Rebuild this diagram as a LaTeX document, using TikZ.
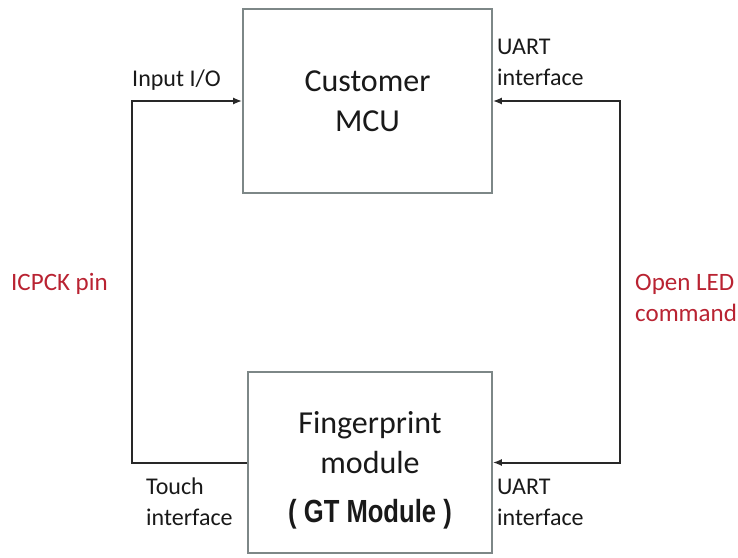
\documentclass[tikz,border=0pt]{standalone}
\usepackage{fontspec}
\setmainfont{Carlito}
\newfontfamily\gtfont{Liberation Sans}
\usetikzlibrary{arrows.meta}
\definecolor{boxgray}{RGB}{125,135,135}
\definecolor{wirecol}{RGB}{40,40,40}
\definecolor{notered}{RGB}{185,35,50}

\begin{document}
\begin{tikzpicture}[x=1pt,y=-1pt,
   block/.style={draw=boxgray,line width=1.6pt,fill=white,align=center,inner sep=0pt,
      font=\fontsize{32}{40}\selectfont,text=black!90},
   wire/.style={draw=wirecol,line width=2pt,-{Latex[length=9pt,width=7pt]}},
   port/.style={align=left,anchor=west,inner sep=0pt,font=\fontsize{24}{31}\selectfont,text=black!90},
   note/.style={align=left,anchor=west,inner sep=0pt,font=\fontsize{25}{31}\selectfont,text=notered}]
   \useasboundingbox (0,0) rectangle (738,557);
   % the two blocks
   \node[block,minimum width=249pt,minimum height=184pt] (mcu) at (367.5,101) {Customer\\MCU};
   \node[block,minimum width=244pt,minimum height=181pt] (fp) at (370,462.5)
      {\fontsize{32}{42}\selectfont\rule{0pt}{38pt}Fingerprint\\module\\[9pt]{\gtfont\bfseries\scalebox{0.8}[1]{( GT Module )}}};
   % corners of the loops
   \coordinate (lbend) at (132,0);
   \coordinate (rbend) at (620,0);
   % wires
   \draw[wire] (fp.west) -- (fp.west -| lbend) -- (mcu.west -| lbend) -- (mcu.west);
   \draw[wire,{Latex[length=9pt,width=7pt]}-{Latex[length=9pt,width=7pt]}] (mcu.east) -- (mcu.east -| rbend) -- (fp.east -| rbend) -- (fp.east);
   % port labels
   \node[port] (inio) at (132,80) {Input I/O};
   \node[port] (uarttop) at (497,62) {UART\\interface};
   \node[port] (touch) at (146,502) {Touch\\interface};
   \node[port] (uartbot) at (497,502) {UART\\interface};
   % red notes
   \node[note] (icpck) at (11,284) {ICPCK pin};
   \node[note] (openled) at (635,298) {Open LED\\command};
\end{tikzpicture}
\end{document}
